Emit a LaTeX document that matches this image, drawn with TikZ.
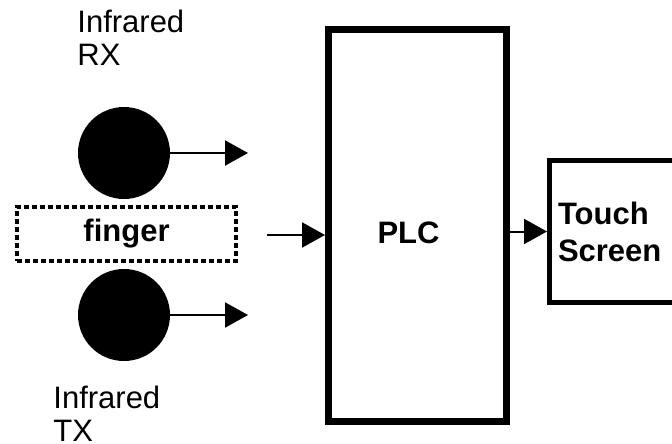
\documentclass[tikz,border=0pt]{standalone}
\usepackage{fontspec}
\setmainfont{Liberation Sans}
\usetikzlibrary{arrows.meta,positioning}

\begin{document}
\begin{tikzpicture}[x=0.5pt,y=-0.5pt,>={Triangle[length=11.5pt,width=12.5pt]},
    font=\fontsize{15.5}{16.5}\selectfont,
    sensor/.style={circle,fill=black,minimum size=46pt,inner sep=0pt},
    block/.style={draw,line width=#1,inner sep=0pt,
      font=\fontsize{15.5}{18.5}\selectfont\bfseries},
    lbl/.style={align=left,inner sep=0pt,anchor=north west},
    wire/.style={->,line width=1pt}]
  \clip (0,0) rectangle (672,443);
  \node[lbl] (rxlbl) at (77,10) {Infrared\\RX};
  \node[lbl] (txlbl) at (53,386) {Infrared\\TX};
  \node[sensor] (rx) at (124,153) {};
  \node[sensor] (tx) at (124,315) {};
  \node[block=2pt,dash pattern=on 2.5pt off 1.5pt,minimum width=109.5pt,
    minimum height=27pt] (finger) at (126.5,234) {finger};
  \node[block=3.5pt,minimum width=89pt,minimum height=196pt,text height=18.6pt]
    (plc) at (417.5,225.5) {PLC\hspace*{9pt}};
  \node[block=2.5pt,minimum width=75pt,minimum height=71pt,text width=66.5pt,
    align=left] (touch) at (624.5,231.5) {Touch\\Screen};
  \coordinate (rxend) at (248,153);
  \coordinate (txend) at (248,315);
  \coordinate (fingerin) at (267,235);
  \draw[wire] (rx) -- (rxend);
  \draw[wire] (tx) -- (txend);
  \draw[wire] (fingerin) -- (fingerin -| plc.west);
  \draw[wire] (plc.east |- touch.west) -- (touch.west);
\end{tikzpicture}
\end{document}
